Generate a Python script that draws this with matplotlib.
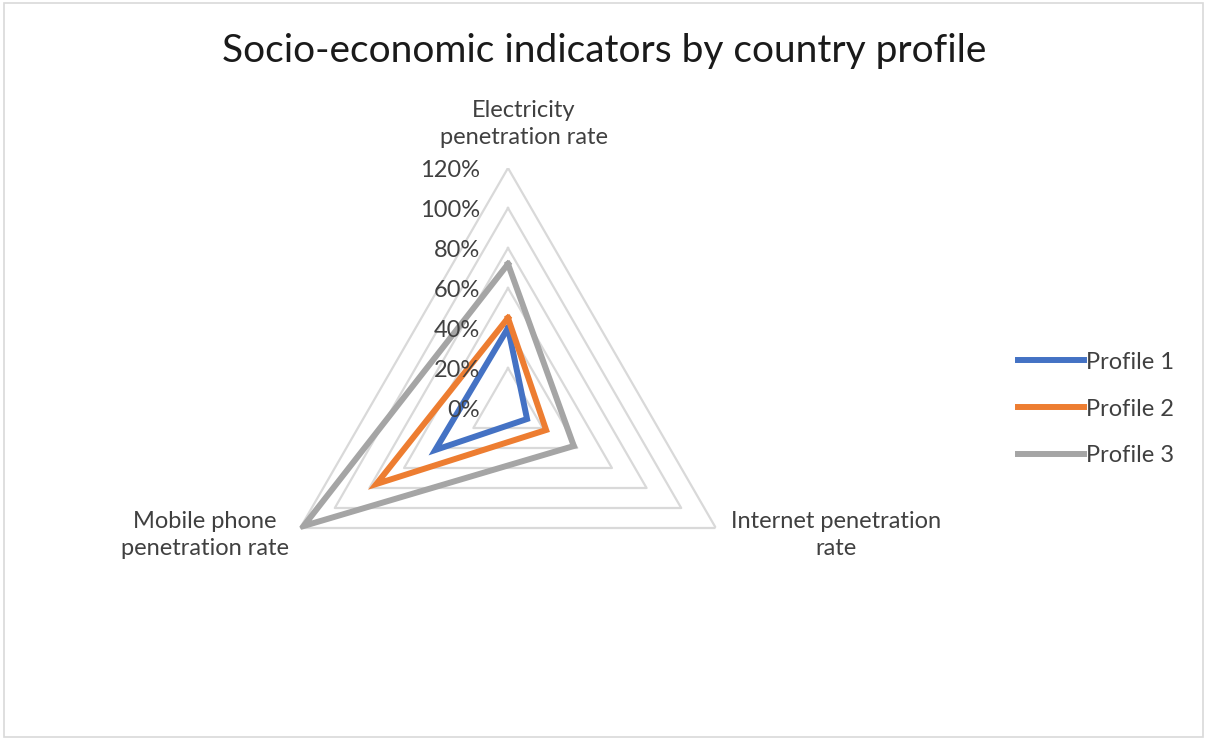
import numpy as np
import matplotlib
matplotlib.use('Agg')
import matplotlib.pyplot as plt
from matplotlib.patches import Rectangle

# Dados
categorias = ['Electricity\npenetration rate', 'Internet penetration\nrate', 'Mobile phone\npenetration rate']
perfis = ['Profile 1', 'Profile 2', 'Profile 3']
profile_1 = [0.40, 0.11, 0.42]
profile_2 = [0.45, 0.22, 0.76]
profile_3 = [0.72, 0.38, 1.18]
niveis = [0.0, 0.2, 0.4, 0.6, 0.8, 1.0, 1.2]
rotulos_niveis = ['0%', '20%', '40%', '60%', '80%', '100%', '120%']

cores = ['#4472C4', '#ED7D31', '#A5A5A5']

plt.rcParams['font.family'] = ['Lato', 'DejaVu Sans']
fig = plt.figure(figsize=(12.07, 7.4), dpi=100, facecolor='white')

# Moldura do gráfico (estilo Excel)
fig.patches.append(Rectangle((0.003, 0.004), 0.994, 0.992, transform=fig.transFigure,
                             fill=False, edgecolor='#D9D9D9', linewidth=1.2))

W, H = 1207, 740
cx, cy, R = 508, 408, 240
ax = fig.add_axes([(cx - R) / W, (H - cy - R) / H, 2 * R / W, 2 * R / H], projection='polar')
ax.set_theta_offset(np.pi / 2)
ax.set_theta_direction(-1)
ax.set_ylim(0, 1.2)
ax.set_axis_off()

n = len(categorias)
angulos = np.linspace(0, 2 * np.pi, n, endpoint=False)
ang_fechado = np.append(angulos, angulos[0])

# Grade triangular
for nv in niveis[1:]:
    ax.plot(ang_fechado, [nv] * (n + 1), color='#D9D9D9', linewidth=1.6, zorder=1)

# Séries
linhas = []
for nome, vals, cor in zip(perfis, [profile_1, profile_2, profile_3], cores):
    v = list(vals) + [vals[0]]
    ln, = ax.plot(ang_fechado, v, color=cor, linewidth=4.3, label=nome,
                  solid_joinstyle='miter', zorder=3)
    linhas.append(ln)

fs = 17

# Rótulos do eixo radial
for nv, rot in zip(niveis, rotulos_niveis):
    ax.annotate(rot, xy=(0, nv), xytext=(-28, -3), textcoords='offset pixels',
                ha='right', va='center', fontsize=fs, color='#404040', zorder=4)

# Rótulos das categorias
fig.text(524 / W, 1 - 124 / H, categorias[0], ha='center', va='center',
         fontsize=fs, color='#404040', linespacing=1.4)
fig.text(836 / W, 1 - 535 / H, categorias[1], ha='center', va='center',
         fontsize=fs, color='#404040', linespacing=1.4)
fig.text(205 / W, 1 - 535 / H, categorias[2], ha='center', va='center',
         fontsize=fs, color='#404040', linespacing=1.4)

# Título
fig.text(604 / W, 1 - 51 / H, 'Socio-economic indicators by country profile',
         ha='center', va='center', fontsize=28, color='#1A1A1A')

# Legenda
fig.legend(handles=linhas, loc='center left', bbox_to_anchor=(997 / W, 1 - 409 / H),
           frameon=False, fontsize=fs, handlelength=2.8, handletextpad=0.05,
           labelspacing=1.1, labelcolor='#404040')

fig.savefig('out.png', dpi=100, facecolor='white')
